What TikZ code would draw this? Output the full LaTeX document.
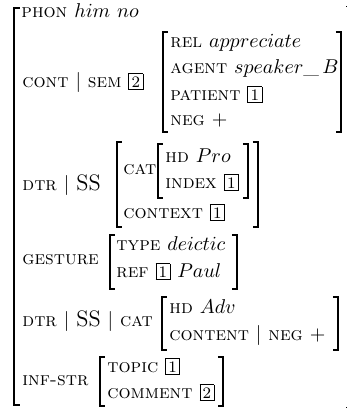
\documentclass[tikz,border=0pt]{standalone}
% Feature structure (AVM) for "him no" with gesture and information structure

\newcommand\lab[1]{{\fontsize{9.5pt}{11pt}\selectfont\scshape #1}}
\newcommand\bigS{{\fontsize{11.2pt}{13pt}\selectfont SS}}
\newcommand\tg[1]{{\setlength\fboxsep{1.2pt}\setlength\fboxrule{0.4pt}\fbox{\fontsize{8pt}{9pt}\selectfont #1}}}

\tikzset{
  row/.style={anchor=base west, inner sep=0pt, font=\fontsize{10.4pt}{12.5pt}\selectfont},
  brk/.style={line width=0.6pt, line join=miter},
  outerbrk/.style={line width=0.7pt, line join=miter},
}

\begin{document}
\begin{tikzpicture}[x=0.5pt, y=-0.5pt]
  \useasboundingbox (0,0) rectangle (348,409);

  % outer bracket
  \draw[outerbrk] (20,8) -- (14,8) -- (14,405) -- (20,405);
  \fill (345.8,5.8) rectangle (347.4,7.4);
  \fill (345.8,406.6) rectangle (347.4,408.2);

  % PHON
  \node[row] (phon) at (21,17.5) {\lab{phon} $him\ no$};

  % CONT | SEM
  \node[row] (cont) at (22,87) {\lab{cont} $\mid$ \lab{sem} \tg{2}};
  \draw[brk] (168,32) -- (163,32) -- (163,132) -- (168,132);
  \draw[brk] (336,32) -- (341,32) -- (341,132) -- (336,132);
  \node[row] (rel) at (170,47) {\lab{rel} $appreciate$};
  \node[row] (agent) at (170,73) {\lab{agent} $speaker\_\,B$};
  \node[row] (patient) at (170,100) {\lab{patient} \tg{1}};
  \node[row] (neg) at (170,125) {\lab{neg} $+$};

  % DTR | SS
  \node[row] (dtr) at (22,190) {\lab{dtr} $\mid$ \bigS};
  \draw[brk] (122,142) -- (117,142) -- (117,227) -- (122,227);
  \draw[brk] (253,142) -- (258,142) -- (258,227) -- (253,227);
  \node[row] (cat) at (123,174.5) {\lab{cat}};
  \draw[brk] (163,144) -- (158,144) -- (158,198) -- (163,198);
  \draw[brk] (243,144) -- (248,144) -- (248,198) -- (243,198);
  \node[row] (hd) at (165,162) {\lab{hd} $Pro$};
  \node[row] (index) at (165,188) {\lab{index} \tg{1}};
  \node[row] (context) at (123,218) {\lab{context} \tg{1}};

  % GESTURE
  \node[row] (gesture) at (22,264) {\lab{gesture}};
  \draw[brk] (115,235) -- (110,235) -- (110,289) -- (115,289);
  \draw[brk] (232,235) -- (237,235) -- (237,289) -- (232,289);
  \node[row] (type) at (116,250) {\lab{type} $deictic$};
  \node[row] (ref) at (116,277) {\lab{ref} \tg{1} $Paul$};

  % DTR | SS | CAT
  \node[row] (dtrcat) at (22,326) {\lab{dtr} $\mid$ \bigS{} $\mid$ \lab{cat}};
  \draw[brk] (167,297) -- (162,297) -- (162,350) -- (167,350);
  \draw[brk] (333,297) -- (338,297) -- (338,350) -- (333,350);
  \node[row] (hdadv) at (169,313) {\lab{hd} $Adv$};
  \node[row] (content) at (169,340) {\lab{content} $\mid$ \lab{neg} $+$};

  % INF-STR
  \node[row] (infstr) at (22,385) {\lab{inf-str}};
  \draw[brk] (105,357) -- (100,357) -- (100,406) -- (105,406);
  \draw[brk] (218,357) -- (223,357) -- (223,406) -- (218,406);
  \node[row] (topic) at (107,372) {\lab{topic} \tg{1}};
  \node[row] (comment) at (107,398) {\lab{comment} \tg{2}};
\end{tikzpicture}
\end{document}
